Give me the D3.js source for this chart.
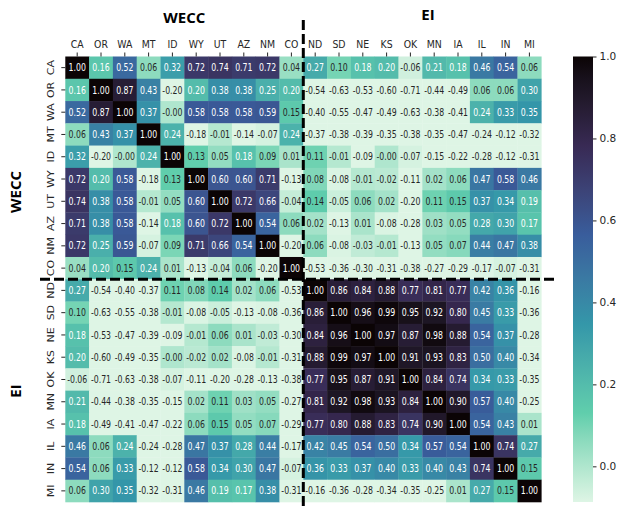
<!DOCTYPE html>
<html>
<head>
<meta charset="utf-8">
<script src="https://cdn.jsdelivr.net/npm/d3@7"></script>
<style>
body { margin: 0; background: #fff; }
svg text { font-family: "DejaVu Sans", sans-serif; fill: #262626; }
</style>
</head>
<body>
<svg id="chart" width="628" height="507"></svg>
<script>
// balancing authorities, WECC first then EI
var states = ["CA","OR","WA","MT","ID","WY","UT","AZ","NM","CO",
              "ND","SD","NE","KS","OK","MN","IA","IL","IN","MI"];
var groups = ["WECC", "EI"];

// correlation matrix, rows follow `states`
var corr = [
  [1.00, 0.16, 0.52, 0.06, 0.32, 0.72, 0.74, 0.71, 0.72, 0.04, 0.27, 0.10, 0.18, 0.20, -0.06, 0.21, 0.18, 0.46, 0.54, 0.06],
  [0.16, 1.00, 0.87, 0.43, -0.20, 0.20, 0.38, 0.38, 0.25, 0.20, -0.54, -0.63, -0.53, -0.60, -0.71, -0.44, -0.49, 0.06, 0.06, 0.30],
  [0.52, 0.87, 1.00, 0.37, -0.00, 0.58, 0.58, 0.58, 0.59, 0.15, -0.40, -0.55, -0.47, -0.49, -0.63, -0.38, -0.41, 0.24, 0.33, 0.35],
  [0.06, 0.43, 0.37, 1.00, 0.24, -0.18, -0.01, -0.14, -0.07, 0.24, -0.37, -0.38, -0.39, -0.35, -0.38, -0.35, -0.47, -0.24, -0.12, -0.32],
  [0.32, -0.20, -0.00, 0.24, 1.00, 0.13, 0.05, 0.18, 0.09, 0.01, 0.11, -0.01, -0.09, -0.00, -0.07, -0.15, -0.22, -0.28, -0.12, -0.31],
  [0.72, 0.20, 0.58, -0.18, 0.13, 1.00, 0.60, 0.60, 0.71, -0.13, 0.08, -0.08, -0.01, -0.02, -0.11, 0.02, 0.06, 0.47, 0.58, 0.46],
  [0.74, 0.38, 0.58, -0.01, 0.05, 0.60, 1.00, 0.72, 0.66, -0.04, 0.14, -0.05, 0.06, 0.02, -0.20, 0.11, 0.15, 0.37, 0.34, 0.19],
  [0.71, 0.38, 0.58, -0.14, 0.18, 0.60, 0.72, 1.00, 0.54, 0.06, 0.02, -0.13, 0.01, -0.08, -0.28, 0.03, 0.05, 0.28, 0.30, 0.17],
  [0.72, 0.25, 0.59, -0.07, 0.09, 0.71, 0.66, 0.54, 1.00, -0.20, 0.06, -0.08, -0.03, -0.01, -0.13, 0.05, 0.07, 0.44, 0.47, 0.38],
  [0.04, 0.20, 0.15, 0.24, 0.01, -0.13, -0.04, 0.06, -0.20, 1.00, -0.53, -0.36, -0.30, -0.31, -0.38, -0.27, -0.29, -0.17, -0.07, -0.31],
  [0.27, -0.54, -0.40, -0.37, 0.11, 0.08, 0.14, 0.02, 0.06, -0.53, 1.00, 0.86, 0.84, 0.88, 0.77, 0.81, 0.77, 0.42, 0.36, -0.16],
  [0.10, -0.63, -0.55, -0.38, -0.01, -0.08, -0.05, -0.13, -0.08, -0.36, 0.86, 1.00, 0.96, 0.99, 0.95, 0.92, 0.80, 0.45, 0.33, -0.36],
  [0.18, -0.53, -0.47, -0.39, -0.09, -0.01, 0.06, 0.01, -0.03, -0.30, 0.84, 0.96, 1.00, 0.97, 0.87, 0.98, 0.88, 0.54, 0.37, -0.28],
  [0.20, -0.60, -0.49, -0.35, -0.00, -0.02, 0.02, -0.08, -0.01, -0.31, 0.88, 0.99, 0.97, 1.00, 0.91, 0.93, 0.83, 0.50, 0.40, -0.34],
  [-0.06, -0.71, -0.63, -0.38, -0.07, -0.11, -0.20, -0.28, -0.13, -0.38, 0.77, 0.95, 0.87, 0.91, 1.00, 0.84, 0.74, 0.34, 0.33, -0.35],
  [0.21, -0.44, -0.38, -0.35, -0.15, 0.02, 0.11, 0.03, 0.05, -0.27, 0.81, 0.92, 0.98, 0.93, 0.84, 1.00, 0.90, 0.57, 0.40, -0.25],
  [0.18, -0.49, -0.41, -0.47, -0.22, 0.06, 0.15, 0.05, 0.07, -0.29, 0.77, 0.80, 0.88, 0.83, 0.74, 0.90, 1.00, 0.54, 0.43, 0.01],
  [0.46, 0.06, 0.24, -0.24, -0.28, 0.47, 0.37, 0.28, 0.44, -0.17, 0.42, 0.45, 0.54, 0.50, 0.34, 0.57, 0.54, 1.00, 0.74, 0.27],
  [0.54, 0.06, 0.33, -0.12, -0.12, 0.58, 0.34, 0.30, 0.47, -0.07, 0.36, 0.33, 0.37, 0.40, 0.33, 0.40, 0.43, 0.74, 1.00, 0.15],
  [0.06, 0.30, 0.35, -0.32, -0.31, 0.46, 0.19, 0.17, 0.38, -0.31, -0.16, -0.36, -0.28, -0.34, -0.35, -0.25, 0.01, 0.27, 0.15, 1.00]
];

var cbarTicks = [0.0, 0.2, 0.4, 0.6, 0.8, 1.0];
var vmin = -0.087, vmax = 1.0;
// mako, reversed (light -> dark)
var makoR = ["#DEF5E5", "#60CEAC", "#3497A9", "#395D9C", "#382A54", "#0B0405"];

var svg = d3.select("#chart");

var x = d3.scaleBand().domain(states).range([65.3, 541.3]);
var y = d3.scaleBand().domain(states).range([56.5, 502]);

var color = d3.scaleLinear()
  .domain(makoR.map(function(d, i) { return vmin + (vmax - vmin) * i / (makoR.length - 1); }))
  .range(makoR)
  .interpolate(d3.interpolateLab)
  .clamp(true);

function fmt(v) {
  var neg = v < 0 || Object.is(v, -0);
  return (neg ? "-" : "") + Math.abs(v).toFixed(2);
}

// text goes white on cells darker than the 0.155 colour
function lum(c) {
  var r = d3.rgb(c);
  var f = function(u) { u /= 255; return u <= 0.03928 ? u / 12.92 : Math.pow((u + 0.055) / 1.055, 2.4); };
  return 0.2126 * f(r.r) + 0.7152 * f(r.g) + 0.0722 * f(r.b);
}
var lumCut = lum(color(0.155));

var cells = [];
corr.forEach(function(row, i) {
  row.forEach(function(v, j) { cells.push({r: states[i], c: states[j], v: v}); });
});

svg.append("g").selectAll("rect")
  .data(cells).enter().append("rect")
  .attr("x", function(d) { return x(d.c); })
  .attr("y", function(d) { return y(d.r); })
  .attr("width", x.bandwidth() + 0.3)
  .attr("height", y.bandwidth() + 0.3)
  .attr("fill", function(d) { return color(d.v); });

svg.append("g").selectAll("text")
  .data(cells).enter().append("text")
  .attr("transform", function(d) {
    return "translate(" + (x(d.c) + x.bandwidth() / 2) + "," + (y(d.r) + y.bandwidth() / 2 + 3.6) + ") scale(0.78,1)";
  })
  .attr("text-anchor", "middle")
  .style("font-size", "10px")
  .style("fill", function(d) { return lum(color(d.v)) < lumCut ? "#ffffff" : "#262626"; })
  .text(function(d) { return fmt(d.v); });

// top axis
var xAxis = svg.append("g").attr("transform", "translate(0,56.5)")
  .call(d3.axisTop(x).tickSize(4).tickPadding(3));
xAxis.select(".domain").remove();
xAxis.selectAll("line").attr("stroke", "#262626");
xAxis.selectAll("text")
  .attr("y", null).attr("dy", null)
  .attr("transform", "translate(0,-9) scale(0.85,1)")
  .style("font-size", "11px").style("font-family", "DejaVu Sans").attr("fill", "#262626");

// left axis, labels turned vertical
var yAxis = svg.append("g").attr("transform", "translate(65.3,0)")
  .call(d3.axisLeft(y).tickSize(4).tickPadding(3));
yAxis.select(".domain").remove();
yAxis.selectAll("line").attr("stroke", "#262626");
yAxis.selectAll("text")
  .attr("x", null).attr("dy", null)
  .attr("text-anchor", "middle")
  .attr("transform", "translate(-11,0) scale(0.85,1) rotate(-90)")
  .style("font-size", "11px").style("font-family", "DejaVu Sans").attr("fill", "#262626");

// colour bar
var cb = d3.scaleLinear().domain([vmin, vmax]).range([502, 56.5]);
var defs = svg.append("defs");
var grad = defs.append("linearGradient").attr("id", "cbgrad")
  .attr("x1", 0).attr("y1", 1).attr("x2", 0).attr("y2", 0);
d3.range(0, 1.0001, 0.05).forEach(function(t) {
  grad.append("stop").attr("offset", t).attr("stop-color", color(vmin + t * (vmax - vmin)));
});
svg.append("rect").attr("x", 573).attr("y", 56.5).attr("width", 20).attr("height", 445.5)
  .attr("fill", "url(#cbgrad)");
var cAxis = svg.append("g").attr("transform", "translate(593,0)")
  .call(d3.axisRight(cb).tickValues(cbarTicks).tickFormat(d3.format(".1f")).tickSize(3.5).tickPadding(3));
cAxis.select(".domain").remove();
cAxis.selectAll("line").attr("stroke", "#262626");
cAxis.selectAll("text").style("font-size", "10.5px").style("font-family", "DejaVu Sans").attr("fill", "#262626");

// region separators
var split = x(states[10]);
var splitY = y(states[10]);
svg.append("line").attr("x1", split).attr("x2", split).attr("y1", 20).attr("y2", 507)
  .attr("stroke", "#000").attr("stroke-width", 3).attr("stroke-dasharray", "10,4");
svg.append("line").attr("x1", 40).attr("x2", 556).attr("y1", splitY).attr("y2", splitY)
  .attr("stroke", "#000").attr("stroke-width", 3).attr("stroke-dasharray", "10,4");

// region titles
function title(sel) {
  return sel.attr("text-anchor", "middle")
    .style("font-family", "'Open Sans', sans-serif").style("font-weight", "bold")
    .style("font-size", "15px").style("fill", "#000");
}
title(svg.append("text").attr("x", (x(states[0]) + split) / 2).attr("y", 23)).text(groups[0]);
title(svg.append("text").attr("x", 428).attr("y", 20)).text(groups[1]);
title(svg.append("text").attr("transform", "translate(21,192) rotate(-90)")).text(groups[0]);
title(svg.append("text").attr("transform", "translate(21,391) rotate(-90)")).text(groups[1]);
</script>
</body>
</html>
